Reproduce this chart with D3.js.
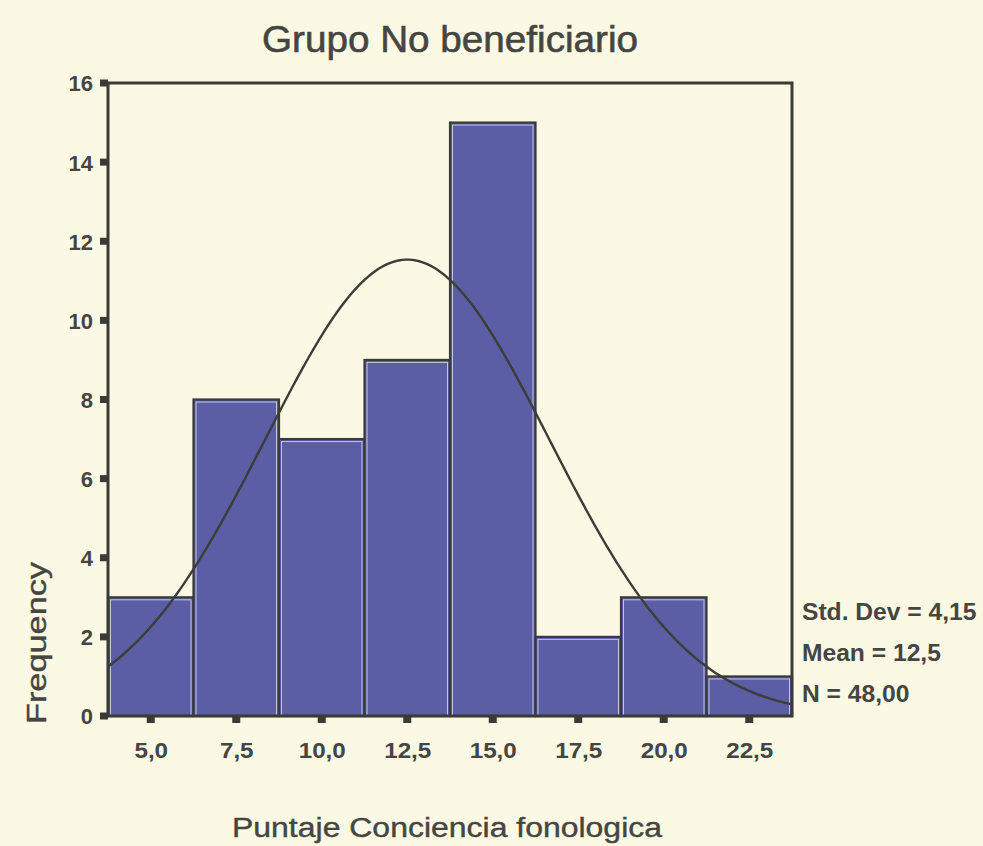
<!DOCTYPE html>
<html><head><meta charset="utf-8">
<script src="https://cdn.jsdelivr.net/npm/d3@7"></script>
<style>
html,body{margin:0;padding:0;background:#fbf8e4;}
svg{display:block;}
text{font-family:Arial,"Liberation Sans",sans-serif;fill:#454541;}
</style></head><body>
<script>
const binCenters = [5.0, 7.5, 10.0, 12.5, 15.0, 17.5, 20.0, 22.5];
const frequencies = [3, 8, 7, 9, 15, 2, 3, 1];
const yTicks = [0, 2, 4, 6, 8, 10, 12, 14, 16];
const xTickLabels = ["5,0", "7,5", "10,0", "12,5", "15,0", "17,5", "20,0", "22,5"];
const stats = { sd: 4.15, mean: 12.5, n: 48 };
const statLabels = ["Std. Dev = 4,15", "Mean = 12,5", "N = 48,00"];
const binWidth = 2.5;

const W = 983, H = 846;
const svg = d3.select("body").append("svg").attr("width", W).attr("height", H);
svg.append("rect").attr("width", W).attr("height", H).attr("fill", "#fbf8e4");

const pLeft = 108, pRight = 792, pTop = 83, pBottom = 716;
const x = d3.scaleLinear().domain([3.75, 23.75]).range([pLeft, pRight]);
const y = d3.scaleLinear().domain([0, 16]).range([pBottom, pTop]);

function stretch(sel, k) {
  sel.each(function () {
    const w = this.getComputedTextLength();
    d3.select(this).attr("textLength", w * k).attr("lengthAdjust", "spacingAndGlyphs");
  });
}

// bars
const g = svg.append("g");
binCenters.forEach((c, i) => {
  const x0 = x(c - binWidth / 2), x1 = x(c + binWidth / 2);
  const yt = y(frequencies[i]);
  g.append("rect").attr("x", x0).attr("y", yt).attr("width", x1 - x0).attr("height", pBottom - yt)
    .attr("fill", "#5b5ea5").attr("stroke", "#3a3a3c").attr("stroke-width", 2.2);
  g.append("rect").attr("x", x0 + 2.5).attr("y", yt + 2.5).attr("width", x1 - x0 - 5).attr("height", pBottom - yt - 3)
    .attr("fill", "none").attr("stroke", "#c4c5e4").attr("stroke-width", 1);
});

// normal curve
const norm = v => stats.n * binWidth / (stats.sd * Math.sqrt(2 * Math.PI)) * Math.exp(-0.5 * Math.pow((v - stats.mean) / stats.sd, 2));
const pts = d3.range(3.75, 23.76, 0.1).map(v => [x(v), y(norm(v))]);
svg.append("path").attr("d", d3.line()(pts)).attr("fill", "none").attr("stroke", "#3c3c3a").attr("stroke-width", 2.4);

// frame
svg.append("rect").attr("x", pLeft).attr("y", pTop).attr("width", pRight - pLeft).attr("height", pBottom - pTop)
  .attr("fill", "none").attr("stroke", "#3a3a38").attr("stroke-width", 3);

// y axis
const yAxis = d3.axisLeft(y).tickValues(yTicks).tickSize(0).tickPadding(15).tickFormat(d3.format("d"));
const ya = svg.append("g").attr("transform", `translate(${pLeft},0)`).call(yAxis);
ya.select(".domain").remove();
ya.selectAll("text").attr("font-size", 22).attr("font-weight", "bold").attr("fill", "#454541")
  .style("font-family", "Arial, 'Liberation Sans', sans-serif").attr("dy", "0.36em");
yTicks.forEach(t => svg.append("rect").attr("x", pLeft - 8).attr("y", y(t) - 3.5).attr("width", 8).attr("height", 7).attr("fill", "#3a3a38"));

// x axis
const xAxis = d3.axisBottom(x).tickValues(binCenters).tickSize(0).tickPadding(26).tickFormat((d, i) => xTickLabels[i]);
const xa = svg.append("g").attr("transform", `translate(0,${pBottom})`).call(xAxis);
xa.select(".domain").remove();
xa.selectAll("text").attr("font-size", 22).attr("font-weight", "bold").attr("fill", "#454541")
  .style("font-family", "Arial, 'Liberation Sans', sans-serif").attr("y", 42).attr("dy", 0);
stretch(xa.selectAll("text"), 1.1);
binCenters.forEach(t => svg.append("rect").attr("x", x(t) - 4).attr("y", pBottom).attr("width", 8).attr("height", 7).attr("fill", "#3a3a38"));

// title
svg.append("text").attr("x", 450).attr("y", 52).attr("text-anchor", "middle").attr("font-size", 37)
  .attr("stroke", "#454541").attr("stroke-width", 0.6)
  .attr("textLength", 376).attr("lengthAdjust", "spacingAndGlyphs").text("Grupo No beneficiario");
// x label
svg.append("text").attr("x", 447).attr("y", 837).attr("text-anchor", "middle").attr("font-size", 27)
  .attr("stroke", "#454541").attr("stroke-width", 0.4)
  .attr("textLength", 430).attr("lengthAdjust", "spacingAndGlyphs").text("Puntaje Conciencia fonologica");
// y label
svg.append("text").attr("transform", "translate(46,643) rotate(-90)").attr("text-anchor", "middle").attr("font-size", 28)
  .attr("stroke", "#454541").attr("stroke-width", 0.4)
  .attr("textLength", 162).attr("lengthAdjust", "spacingAndGlyphs").text("Frequency");

// stats
const st = svg.append("g");
statLabels.forEach((s, i) => {
  st.append("text").attr("x", 802).attr("y", 620 + i * 41).attr("font-size", 23).attr("font-weight", "bold").text(s);
});
stretch(st.selectAll("text"), 1.07);
</script>
</body></html>
